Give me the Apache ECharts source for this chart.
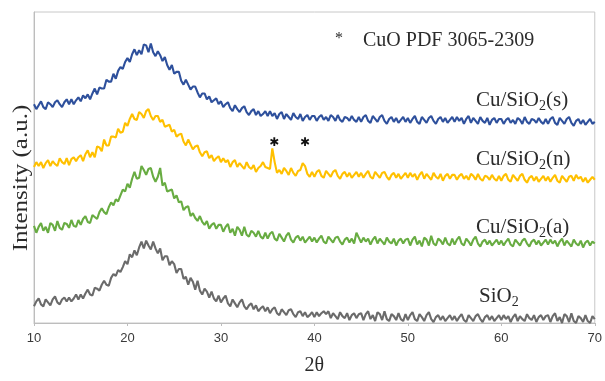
<!DOCTYPE html>
<html>
<head>
<meta charset="UTF-8">
<title>XRD</title>
<script src="https://cdn.jsdelivr.net/npm/echarts@6/dist/echarts.min.js"></script>
<style>
  html, body { margin: 0; padding: 0; background: #fff; }
  #main { width: 605px; height: 381px; }
</style>
</head>
<body>
<div id="main"></div>
<script>
// 2θ from 10 to 70, one reading every 0.25 degree (20 per row = 5 degrees)
var thetaStart = 10;
var thetaStep = 0.25;
var xTicks = [10, 20, 30, 40, 50, 60, 70];

// intensities (a.u.), curves already stacked
var cuSiO2s = [
  223, 218, 222, 226, 220, 218, 225, 223, 220, 225, 227, 223, 220, 225, 228, 223, 228, 223, 227, 230,
  226, 232, 229, 233, 228, 234, 239, 233, 240, 239, 239, 248, 246, 246, 254, 249, 257, 261, 259, 266,
  270, 266, 274, 279, 273, 278, 274, 284, 283, 276, 285, 276, 272, 277, 273, 267, 271, 263, 258, 263,
  254, 256, 256, 247, 243, 248, 243, 238, 241, 241, 235, 230, 234, 234, 228, 231, 225, 227, 229, 223,
  226, 220, 223, 225, 219, 216, 222, 218, 215, 219, 221, 215, 212, 216, 218, 212, 216, 211, 213, 216,
  211, 216, 211, 214, 208, 213, 215, 208, 213, 210, 207, 214, 210, 208, 213, 206, 210, 212, 207, 211,
  211, 206, 210, 212, 207, 210, 206, 212, 210, 206, 212, 207, 205, 210, 209, 206, 211, 207, 205, 210,
  205, 210, 212, 206, 204, 211, 208, 205, 210, 212, 206, 203, 208, 210, 205, 209, 204, 207, 210, 205,
  209, 204, 208, 211, 205, 203, 210, 207, 204, 209, 211, 206, 203, 208, 210, 205, 209, 204, 207, 210,
  205, 210, 206, 209, 203, 208, 211, 204, 209, 206, 203, 210, 206, 204, 209, 202, 207, 209, 204, 208,
  208, 203, 207, 209, 204, 207, 203, 209, 207, 203, 210, 205, 203, 208, 207, 204, 209, 205, 203, 208,
  203, 208, 210, 204, 202, 209, 206, 203, 208, 210, 204, 201, 206, 208, 203, 207, 202, 205, 208, 203,
  205
];
var cuSiO2n = [
  159, 164, 160, 164, 158, 163, 166, 160, 165, 162, 160, 168, 164, 162, 168, 161, 167, 169, 165, 169,
  171, 165, 172, 176, 169, 174, 169, 180, 179, 175, 187, 181, 181, 190, 190, 189, 198, 194, 195, 204,
  201, 208, 213, 208, 207, 215, 213, 209, 216, 218, 211, 207, 211, 211, 205, 207, 200, 201, 202, 195,
  197, 190, 192, 193, 185, 181, 187, 182, 177, 180, 181, 174, 170, 174, 175, 168, 171, 165, 168, 170,
  164, 168, 164, 166, 159, 164, 166, 159, 163, 160, 157, 164, 159, 157, 161, 154, 158, 160, 164, 159,
  158, 157, 178, 164, 153, 156, 152, 158, 155, 151, 158, 153, 150, 155, 156, 163, 160, 152, 149, 154,
  149, 154, 156, 150, 148, 155, 152, 149, 154, 156, 150, 147, 152, 154, 149, 153, 148, 151, 154, 149,
  153, 148, 152, 155, 149, 147, 154, 151, 148, 153, 154, 149, 146, 151, 153, 148, 152, 147, 150, 153,
  148, 153, 149, 152, 146, 151, 154, 147, 152, 149, 146, 153, 149, 147, 152, 145, 150, 152, 147, 151,
  151, 146, 150, 152, 147, 150, 146, 152, 150, 146, 152, 147, 145, 150, 149, 146, 151, 147, 145, 150,
  145, 150, 152, 146, 144, 151, 148, 145, 150, 152, 146, 143, 148, 150, 145, 149, 144, 147, 150, 145,
  149, 144, 148, 151, 145, 143, 150, 147, 144, 149, 150, 145, 151, 147, 149, 144, 148, 143, 146, 149,
  146
];
var cuSiO2a = [
  99, 92, 98, 102, 94, 98, 92, 102, 100, 94, 104, 97, 95, 102, 101, 97, 105, 99, 98, 105,
  100, 106, 109, 103, 102, 110, 108, 106, 113, 117, 113, 111, 118, 123, 120, 126, 124, 130, 136, 134,
  142, 138, 147, 154, 147, 148, 160, 156, 151, 157, 158, 149, 144, 149, 158, 140, 143, 134, 135, 136,
  127, 130, 123, 124, 115, 118, 119, 109, 112, 107, 104, 109, 103, 100, 104, 96, 100, 102, 96, 100,
  100, 93, 98, 101, 92, 96, 89, 98, 95, 89, 98, 90, 88, 94, 92, 88, 94, 88, 86, 92,
  86, 91, 93, 86, 84, 91, 87, 83, 89, 92, 85, 82, 87, 89, 84, 88, 82, 85, 88, 83,
  87, 82, 86, 89, 83, 81, 88, 85, 82, 87, 88, 83, 80, 85, 87, 82, 86, 81, 92, 87,
  82, 87, 83, 86, 80, 85, 88, 81, 86, 83, 80, 87, 83, 81, 86, 79, 84, 86, 81, 85,
  86, 79, 85, 88, 80, 84, 78, 87, 85, 79, 89, 81, 79, 86, 84, 80, 87, 81, 79, 86,
  80, 85, 88, 81, 79, 86, 83, 79, 85, 88, 81, 78, 83, 85, 80, 84, 79, 82, 85, 80,
  84, 79, 83, 86, 80, 78, 85, 82, 79, 84, 86, 81, 78, 83, 85, 80, 84, 79, 82, 85,
  80, 85, 81, 84, 78, 83, 86, 79, 84, 81, 78, 85, 81, 79, 84, 77, 82, 84, 79, 83,
  81
];
var siO2 = [
  17, 22, 25, 19, 17, 24, 21, 18, 24, 27, 21, 19, 24, 26, 22, 26, 22, 25, 29, 24,
  29, 25, 30, 34, 29, 28, 36, 35, 33, 39, 43, 39, 38, 46, 50, 48, 54, 52, 57, 63,
  60, 70, 67, 74, 69, 77, 83, 76, 84, 79, 75, 83, 76, 71, 76, 64, 68, 68, 59, 63,
  60, 51, 55, 55, 45, 47, 39, 46, 42, 34, 43, 33, 29, 35, 32, 26, 32, 25, 22, 28,
  21, 25, 28, 20, 17, 24, 20, 16, 21, 24, 17, 14, 18, 20, 14, 18, 12, 15, 17, 12,
  16, 10, 14, 16, 10, 8, 14, 11, 8, 13, 14, 9, 6, 11, 12, 7, 11, 6, 8, 11,
  6, 11, 7, 10, 12, 9, 12, 5, 10, 7, 4, 11, 7, 5, 10, 3, 8, 10, 5, 9,
  10, 3, 9, 12, 4, 8, 2, 11, 9, 3, 12, 4, 2, 9, 7, 3, 10, 4, 2, 9,
  3, 8, 11, 4, 2, 9, 6, 2, 8, 11, 4, 1, 6, 8, 3, 7, 2, 5, 8, 3,
  7, 2, 6, 9, 3, 1, 8, 5, 2, 7, 9, 4, 1, 6, 8, 3, 7, 2, 5, 8,
  3, 8, 4, 7, 1, 6, 9, 2, 7, 4, 2, 9, 5, 3, 8, 1, 6, 8, 3, 7,
  8, 1, 7, 10, 2, 6, 0, 9, 7, 1, 10, 2, 0, 7, 5, 1, 8, 2, 0, 7,
  4
];
// CuO reflections marked with *
var cuoPeaks = [35.7, 39.0];
var cuoMarkY = 184;

var serif = '"Liberation Serif", "Times New Roman", serif';

function pairs(vals) {
  return vals.map(function (v, i) { return [thetaStart + i * thetaStep, v]; });
}

function subLabel(pre, post) {
  return '{a|' + pre + '}{b|2}{a|' + post + '}';
}
var labelRich = {
  a: { fontSize: 21, fontFamily: serif, fill: '#2b2b2b', lineHeight: 26, verticalAlign: 'middle' },
  b: { fontSize: 14, fontFamily: serif, fill: '#2b2b2b', lineHeight: 14, verticalAlign: 'bottom' }
};

var myChart = echarts.init(document.getElementById('main'));

function line(name, vals, color) {
  return {
    name: name,
    type: 'line',
    data: pairs(vals),
    symbol: 'none',
    lineStyle: { color: color, width: 2.1 },
    itemStyle: { color: color },
    animation: false
  };
}

var nSeries = line('Cu/SiO2(n)', cuSiO2n, '#FFC000');
nSeries.markPoint = {
  symbol: 'circle',
  symbolSize: 0,
  label: { show: true, formatter: '\u2731', color: '#111', fontSize: 12, fontFamily: 'DejaVu Sans' },
  data: cuoPeaks.map(function (p) { return { coord: [p, cuoMarkY] }; })
};

myChart.setOption({
  backgroundColor: '#fff',
  grid: { left: 34, right: 8, top: 12, bottom: 52, show: true, borderColor: '#c8c8c8', borderWidth: 1 },
  xAxis: {
    type: 'value',
    min: 10,
    max: 70,
    interval: 10,
    name: '2θ',
    nameLocation: 'middle',
    nameGap: 33,
    nameTextStyle: { fontFamily: serif, fontSize: 20, color: '#2b2b2b' },
    axisLine: { lineStyle: { color: '#bdbdbd' } },
    axisTick: { show: true, length: 3, lineStyle: { color: '#bdbdbd' } },
    axisLabel: {
      margin: 9,
      fontFamily: '"Liberation Sans", Arial, sans-serif',
      fontSize: 13,
      color: '#3a3a3a',
      formatter: function (v) { return xTicks.indexOf(v) >= 0 ? String(v) : ''; }
    },
    splitLine: { show: false }
  },
  yAxis: {
    type: 'value',
    min: 0,
    max: 317,
    axisLine: { show: true, lineStyle: { color: '#bdbdbd' } },
    axisTick: { show: false },
    axisLabel: { show: false },
    splitLine: { show: false }
  },
  graphic: [
    {
      type: 'text', x: 22, y: 178, rotation: Math.PI / 2, scaleX: 1.25,
      style: { text: 'Intensity (a.u.)', font: '20px ' + serif, fill: '#2b2b2b', align: 'center', verticalAlign: 'middle' }
    },
    {
      type: 'text', x: 339, y: 39,
      style: { text: '*', font: '16px ' + serif, fill: '#2b2b2b', align: 'center', verticalAlign: 'middle' }
    },
    {
      type: 'text', x: 363, y: 41,
      style: { text: 'CuO PDF 3065-2309', font: '20px ' + serif, fill: '#2b2b2b', align: 'left', verticalAlign: 'middle' }
    },
    { type: 'text', x: 476, y: 100, style: { text: subLabel('Cu/SiO', '(s)'), rich: labelRich, verticalAlign: 'middle' } },
    { type: 'text', x: 476, y: 159, style: { text: subLabel('Cu/SiO', '(n)'), rich: labelRich, verticalAlign: 'middle' } },
    { type: 'text', x: 476, y: 227, style: { text: subLabel('Cu/SiO', '(a)'), rich: labelRich, verticalAlign: 'middle' } },
    { type: 'text', x: 479, y: 296, style: { text: subLabel('SiO', ''), rich: labelRich, verticalAlign: 'middle' } }
  ],
  series: [
    line('SiO2', siO2, '#6b6b6b'),
    line('Cu/SiO2(a)', cuSiO2a, '#68ac42'),
    nSeries,
    line('Cu/SiO2(s)', cuSiO2s, '#2e509c')
  ]
});
</script>
</body>
</html>
